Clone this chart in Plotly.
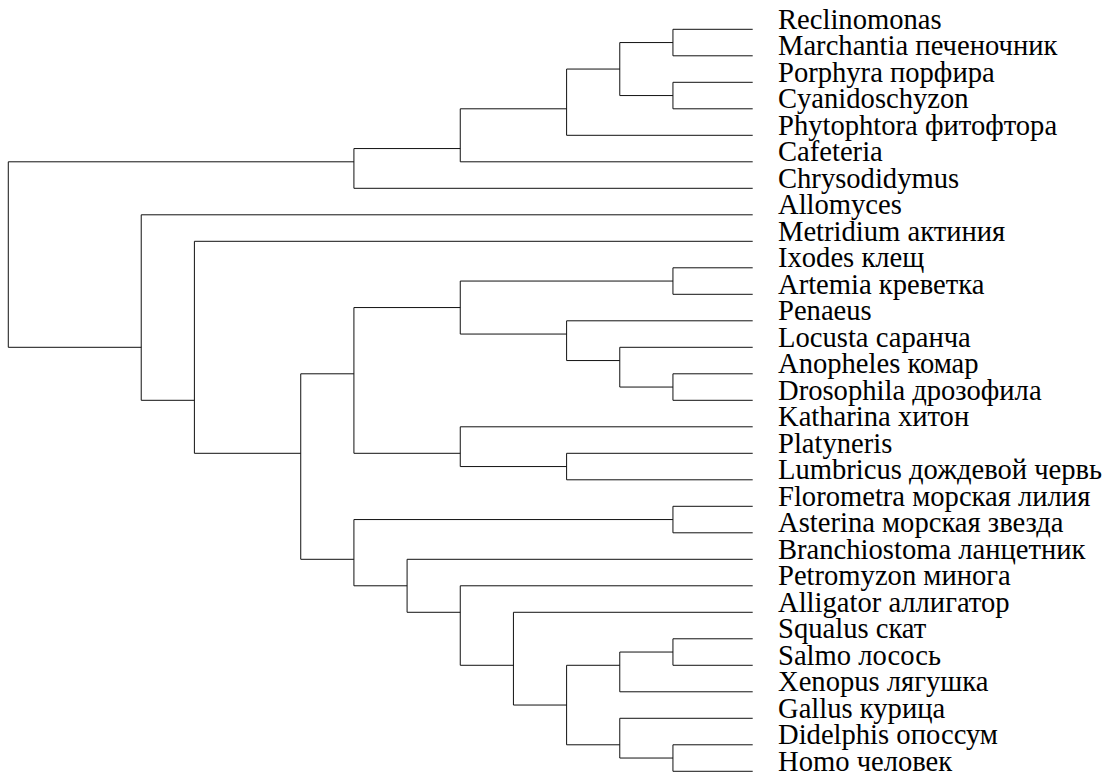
import plotly.graph_objects as go

# Leaves, top to bottom
leaf_names = [
    "Reclinomonas", "Marchantia печеночник", "Porphyra порфира", "Cyanidoschyzon",
    "Phytophtora фитофтора", "Cafeteria", "Chrysodidymus", "Allomyces",
    "Metridium актиния", "Ixodes клещ", "Artemia креветка", "Penaeus",
    "Locusta саранча", "Anopheles комар", "Drosophila дрозофила", "Katharina хитон",
    "Platyneris", "Lumbricus дождевой червь", "Florometra морская лилия",
    "Asterina морская звезда", "Branchiostoma ланцетник", "Petromyzon минога",
    "Alligator аллигатор", "Squalus скат", "Salmo лосось", "Xenopus лягушка",
    "Gallus курица", "Didelphis опоссум", "Homo человек",
]
leaf_height = 0

# Internal nodes: name, children, height (distance units), vertical position (leaf units)
node_names = ["A5", "A6", "A4", "A3", "A2", "A1",
              "P3", "P6", "P5", "P4", "P2", "L2", "L1", "P1",
              "D2", "D8", "D7", "D10", "D9", "D6", "D5", "D4", "D3", "D1",
              "B3", "B2", "B1", "root"]
node_children = [
    ("Reclinomonas", "Marchantia печеночник"),
    ("Porphyra порфира", "Cyanidoschyzon"),
    ("A5", "A6"),
    ("A4", "Phytophtora фитофтора"),
    ("A3", "Cafeteria"),
    ("A2", "Chrysodidymus"),
    ("Ixodes клещ", "Artemia креветка"),
    ("Anopheles комар", "Drosophila дрозофила"),
    ("Locusta саранча", "P6"),
    ("Penaeus", "P5"),
    ("P3", "P4"),
    ("Platyneris", "Lumbricus дождевой червь"),
    ("Katharina хитон", "L2"),
    ("P2", "L1"),
    ("Florometra морская лилия", "Asterina морская звезда"),
    ("Squalus скат", "Salmo лосось"),
    ("D8", "Xenopus лягушка"),
    ("Didelphis опоссум", "Homo человек"),
    ("Gallus курица", "D10"),
    ("D7", "D9"),
    ("Alligator аллигатор", "D6"),
    ("Petromyzon минога", "D5"),
    ("Branchiostoma ланцетник", "D4"),
    ("D2", "D3"),
    ("P1", "D1"),
    ("Metridium актиния", "B3"),
    ("Allomyces", "B2"),
    ("A1", "B1"),
]
node_heights = [3, 3, 5, 7, 11, 15,
                3, 3, 5, 7, 11, 7, 11, 15,
                3, 3, 5, 3, 5, 7, 9, 11, 13, 15,
                17, 21, 23, 28]
node_positions = [0.5, 2.5, 1.5, 3, 4.5, 5,
                  9.5, 13.5, 12.5, 11.5, 10.5, 16.5, 16, 13,
                  18.5, 23.5, 24, 27.5, 27, 25.5, 24, 22, 21, 20,
                  16, 14, 12, 8.5]

pos = {n: i for i, n in enumerate(leaf_names)}
hgt = {n: leaf_height for n in leaf_names}
for n, h, p in zip(node_names, node_heights, node_positions):
    pos[n] = p
    hgt[n] = h

xs, ys = [], []
for n, (c1, c2) in zip(node_names, node_children):
    h = hgt[n]
    # vertical connector
    xs += [h, h, None]
    ys += [pos[c1], pos[c2], None]
    # horizontal links to children
    for c in (c1, c2):
        xs += [h, hgt[c], None]
        ys += [pos[c], pos[c], None]

fig = go.Figure()
fig.add_trace(go.Scatter(x=xs, y=ys, mode="lines",
                         line=dict(color="#111111", width=1),
                         hoverinfo="skip", showlegend=False))

for name in leaf_names:
    fig.add_annotation(x=leaf_height, y=pos[name], text=name, showarrow=False,
                       xanchor="left", yanchor="middle", xshift=23, yshift=10,
                       font=dict(family="Liberation Serif", size=28.6, color="black"))

fig.update_layout(
    width=1113, height=775,
    margin=dict(l=0, r=0, t=0, b=0),
    paper_bgcolor="white", plot_bgcolor="white",
    xaxis=dict(range=[28.312, -13.552], visible=False, fixedrange=True),
    yaxis=dict(range=[28.14, -1.106], visible=False, fixedrange=True),
)
fig.write_html(
    "out.html",
    config={"displayModeBar": False},
    post_script="document.body.style.margin='0';document.body.style.overflow='hidden';",
)
